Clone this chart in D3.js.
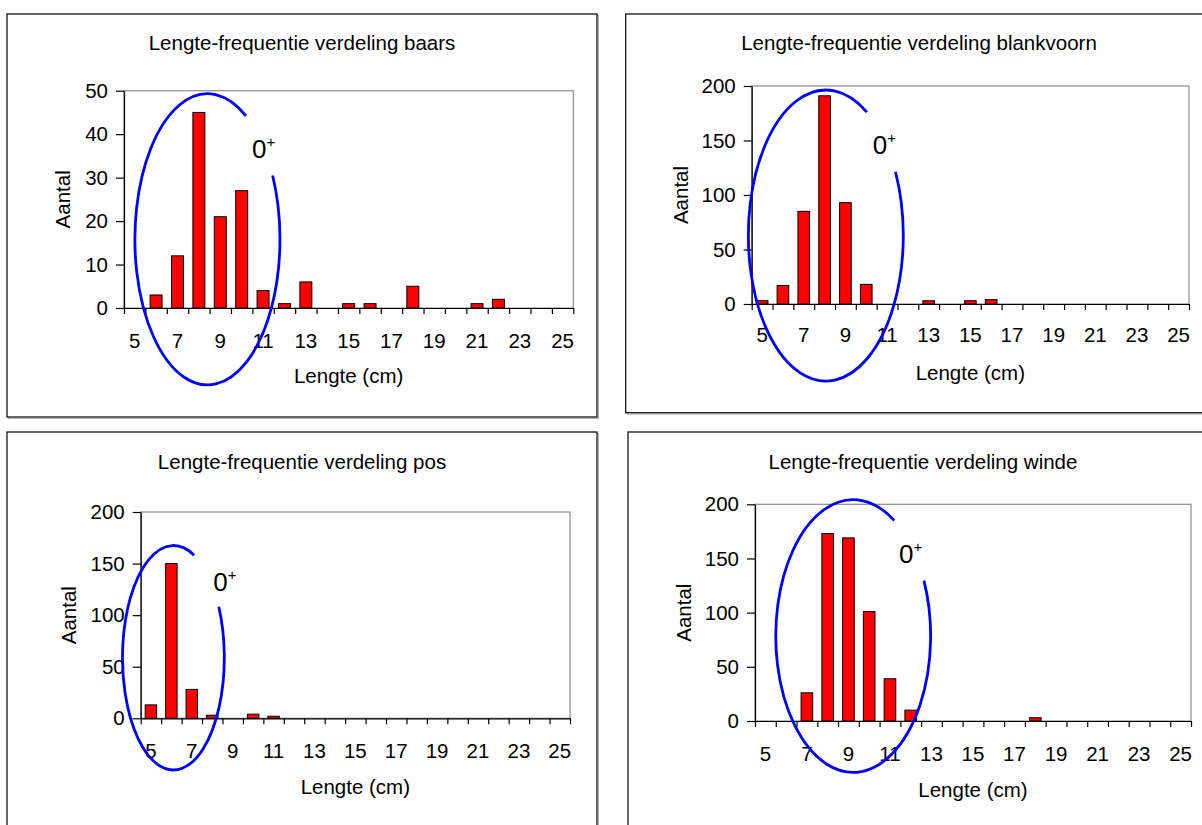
<!DOCTYPE html>
<html>
<head>
<meta charset="utf-8">
<script src="https://cdn.jsdelivr.net/npm/d3@7"></script>
<style>
  body { margin: 0; background: #fff; }
  svg { display: block; }
  text { font-family: "Liberation Sans", Arial, sans-serif; fill: #000; }
</style>
</head>
<body>
<svg id="chart" width="1202" height="825"></svg>
<script>
// Length classes (cm) and the labelled ticks on the length axis
const lengthClasses = [5, 6, 7, 8, 9, 10, 11, 12, 13, 14, 15, 16, 17, 18, 19, 20, 21, 22, 23, 24, 25];
const lengthTickLabels = [5, 7, 9, 11, 13, 15, 17, 19, 21, 23, 25];

// Number of fish caught per length class
const baarsCounts      = [0, 3, 12, 45, 21, 27, 4, 1, 6, 0, 1, 1, 0, 5, 0, 0, 1, 2, 0, 0, 0];
const blankvoornCounts = [3, 17, 85, 191, 93, 18, 0, 0, 3, 0, 3, 4, 0, 0, 0, 0, 0, 0, 0, 0, 0];
const posCounts        = [13, 150, 28, 3, 0, 4, 2, 0, 0, 0, 0, 0, 0, 0, 0, 0, 0, 0, 0, 0, 0];
const windeCounts      = [0, 0, 26, 173, 169, 101, 39, 10, 0, 0, 0, 0, 0, 3, 0, 0, 0, 0, 0, 0, 0];

// Count axis ticks
const baarsCountTicks = [0, 10, 20, 30, 40, 50];
const countTicks = [0, 50, 100, 150, 200];

// Ring marking the 0+ year class: centre and radii in (cm, count)
const baarsRing      = { cx: 8.40, cy: 15.8, rx: 3.39, ry: 33.5, labelX: 10.48, labelY: 34.5, gap: [-58, -26] };
const blankvoornRing = { cx: 8.06, cy: 62.8, rx: 3.72, ry: 133.5, labelX: 10.31, labelY: 137.6, gap: [-58, -26] };
const posRing        = { cx: 6.10, cy: 58.7, rx: 2.49, ry: 108.8, labelX: 8.05, labelY: 123.7, gap: [-66, -27] };
const windeRing      = { cx: 9.23, cy: 78.4, rx: 3.73, ry: 125.8, labelX: 11.44, labelY: 146.1, gap: [-58, -24] };

const panels = [
  { title: "Lengte-frequentie verdeling baars", counts: baarsCounts, ticks: baarsCountTicks, max: 50, ring: baarsRing,
    box: { x: 7, y: 14, w: 590, h: 403 }, plot: { l: 124, t: 90.7, r: 573.3, b: 308 },
    titleX: 302, titleY: 50, xLabelY: 347.5, xTitleY: 383, yTitleX: 62 },
  { title: "Lengte-frequentie verdeling blankvoorn", counts: blankvoornCounts, ticks: countTicks, max: 200, ring: blankvoornRing,
    box: { x: 625.7, y: 14, w: 586, h: 398.7 }, plot: { l: 751.7, t: 86, r: 1189, b: 304 },
    titleX: 919, titleY: 50, xLabelY: 342, xTitleY: 380, yTitleX: 680 },
  { title: "Lengte-frequentie verdeling pos", counts: posCounts, ticks: countTicks, max: 200, ring: posRing,
    box: { x: 7, y: 432, w: 590, h: 420 }, plot: { l: 140.7, t: 512, r: 570, b: 718.3 },
    titleX: 302, titleY: 469, xLabelY: 758, xTitleY: 794, yTitleX: 68 },
  { title: "Lengte-frequentie verdeling winde", counts: windeCounts, ticks: countTicks, max: 200, ring: windeRing,
    box: { x: 628, y: 432, w: 584, h: 420 }, plot: { l: 755, t: 504.3, r: 1191, b: 721 },
    titleX: 923, titleY: 469, xLabelY: 761, xTitleY: 797, yTitleX: 683 }
];

const svg = d3.select("#chart");

function drawPanel(p) {
  const g = svg.append("g");
  const { l, t, r, b } = p.plot;

  // chart frame with a soft shadow
  g.append("rect")
    .attr("x", p.box.x + 1.5).attr("y", p.box.y + 1.5)
    .attr("width", p.box.w).attr("height", p.box.h)
    .attr("fill", "none").attr("stroke", "#b0b0b0").attr("stroke-width", 1);
  g.append("rect")
    .attr("x", p.box.x).attr("y", p.box.y)
    .attr("width", p.box.w).attr("height", p.box.h)
    .attr("fill", "#fff").attr("stroke", "#000").attr("stroke-width", 1.2);

  const x = d3.scaleBand().domain(lengthClasses).range([l, r]).paddingInner(0.44).paddingOuter(0.22);
  const xLin = d3.scaleLinear().domain([4.5, 25.5]).range([l, r]);
  const y = d3.scaleLinear().domain([0, p.max]).range([b, t]);

  // plot area border
  g.append("rect")
    .attr("x", l).attr("y", t).attr("width", r - l).attr("height", b - t)
    .attr("fill", "none").attr("stroke", "#8c8c8c").attr("stroke-width", 1.2);

  // bars
  g.append("g").selectAll("rect")
    .data(lengthClasses.map((c, i) => ({ c, v: p.counts[i] })).filter(d => d.v > 0))
    .join("rect")
    .attr("x", d => x(d.c))
    .attr("y", d => y(d.v))
    .attr("width", x.bandwidth())
    .attr("height", d => y(0) - y(d.v))
    .attr("fill", "#ff0000")
    .attr("stroke", "#000")
    .attr("stroke-width", 1);

  // count axis
  const yAxis = g.append("g")
    .attr("transform", `translate(${l},0)`)
    .call(d3.axisLeft(y).tickValues(p.ticks).tickSize(8).tickSizeOuter(0).tickPadding(8));
  yAxis.select(".domain").attr("stroke", "#000").attr("stroke-width", 1.2);
  yAxis.selectAll(".tick line").attr("stroke", "#000").attr("stroke-width", 1.2);
  yAxis.selectAll(".tick text").attr("font-size", 20.5).attr("font-family", null).attr("fill", "#000");

  // length axis: tick marks between the classes
  const boundaries = lengthClasses.map(c => c - 0.5).concat([lengthClasses[lengthClasses.length - 1] + 0.5]);
  const xTicks = g.append("g")
    .attr("transform", `translate(0,${b})`)
    .call(d3.axisBottom(xLin).tickValues(boundaries).tickSize(6).tickSizeOuter(0).tickFormat(""));
  xTicks.select(".domain").attr("stroke", "#000").attr("stroke-width", 1.2);
  xTicks.selectAll(".tick line").attr("stroke", "#000").attr("stroke-width", 1.2);

  // length axis labels at class centres
  const xLabels = g.append("g")
    .attr("transform", `translate(0,${p.xLabelY})`)
    .call(d3.axisBottom(x).tickValues(lengthTickLabels).tickSize(0).tickPadding(0));
  xLabels.select(".domain").remove();
  xLabels.selectAll(".tick text").attr("font-size", 20.5).attr("font-family", null)
    .attr("fill", "#000").attr("dy", 0);

  // titles
  g.append("text")
    .attr("x", p.titleX).attr("y", p.titleY)
    .attr("text-anchor", "middle").attr("font-size", 20.5)
    .text(p.title);
  g.append("text")
    .attr("x", (l + r) / 2).attr("y", p.xTitleY)
    .attr("text-anchor", "middle").attr("font-size", 20.5)
    .text("Lengte (cm)");
  g.append("text")
    .attr("transform", `translate(${p.yTitleX},${(t + b) / 2}) rotate(-90)`)
    .attr("text-anchor", "middle").attr("dominant-baseline", "central").attr("font-size", 20.5)
    .text("Aantal");

  // 0+ ring, open where the label sits
  const ring = p.ring;
  const cx = xLin(ring.cx), cy = y(ring.cy);
  const rx = xLin(ring.cx + ring.rx) - cx;
  const ry = y(0) - y(ring.ry);
  const a0 = ring.gap[1] * Math.PI / 180, a1 = ring.gap[0] * Math.PI / 180;
  const sx = cx + rx * Math.cos(a0), sy = cy + ry * Math.sin(a0);
  const ex = cx + rx * Math.cos(a1), ey = cy + ry * Math.sin(a1);
  g.append("path")
    .attr("d", `M${sx},${sy} A${rx},${ry} 0 1 1 ${ex},${ey}`)
    .attr("fill", "none").attr("stroke", "#0000ff").attr("stroke-width", 2.8);

  const lbl = g.append("text")
    .attr("x", xLin(ring.labelX)).attr("y", y(ring.labelY))
    .attr("font-size", 26);
  lbl.append("tspan").text("0");
  lbl.append("tspan").attr("font-size", 15).attr("dy", -11).text("+");
}

panels.forEach(drawPanel);
</script>
</body>
</html>
